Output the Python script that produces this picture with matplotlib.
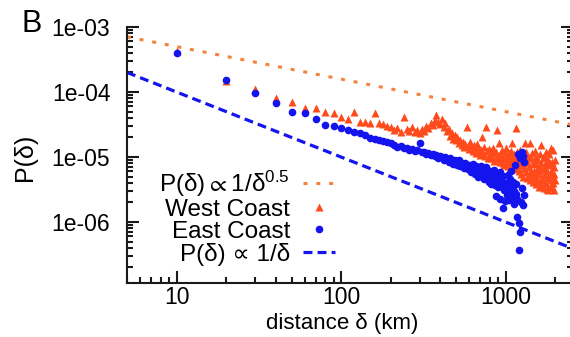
import numpy as np
import matplotlib
matplotlib.use('Agg')
import matplotlib.pyplot as plt

plt.rcParams['font.family'] = ['Liberation Sans', 'DejaVu Sans']
plt.rcParams['mathtext.fontset'] = 'custom'
plt.rcParams['mathtext.rm'] = 'Liberation Sans'
plt.rcParams['mathtext.default'] = 'regular'

#------------ DATA ----------------------------
# Distances come in 10 km bins.
east_km = np.arange(10, 1310, 10)
west_km = np.arange(10, 2010, 10)

# P(delta), in units of 1e-6.
east_p = [
    398, 153, 97, 68, 49, 47, 38.5, 31, 30, 28,
    26, 24.3, 23.4, 21.8, 19.5, 18.8, 18.2, 17.4, 17, 16.4,
    15.2, 14.4, 14.8, 13.6, 13.9, 12.8, 13.1, 12.3, 12.6, 16.4,
    11.8, 12.1, 11.2, 11.6, 10.6, 11.0, 10.2, 10.7, 9.8, 10.3,
    9.9, 8.9, 10.1, 9.2, 8.4, 9.6, 8.8, 7.9, 9.0, 8.3,
    7.6, 8.9, 7.2, 8.1, 7.5, 6.8, 8.0, 7.1, 6.5, 7.6,
    7.0, 5.9, 7.8, 6.4, 5.5, 7.2, 6.0, 4.9, 6.6, 5.7,
    7.4, 5.1, 6.2, 4.6, 5.8, 6.9, 4.8, 5.4, 4.2, 6.1,
    5.0, 3.9, 5.6, 4.5, 6.4, 3.7, 4.9, 2.5, 5.3, 3.5,
    4.4, 5.9, 2.3, 4.7, 3.9, 1.64, 5.1, 3.1, 2.1, 3.6,
    4.0, 2.6, 5.2, 3.2, 2.2, 4.6, 2.9, 6.0, 3.5, 2.4,
    4.2, 1.9, 3.0, 7.5, 2.7, 3.8, 1.2, 2.3, 11.0, 0.97,
    0.37, 9.5, 0.71, 2.0, 12.0, 3.3, 1.8, 10.5, 2.6, 8.5,
]
west_p = [
    420, 150, 111, 80, 71, 57, 56, 50, 47.5, 41.7,
    38, 50, 35, 34, 33, 48, 33, 32, 30, 29,
    26, 28, 24, 41.7, 27, 25, 29, 24, 26, 23,
    27, 25, 30, 28, 33, 31, 37, 44, 35, 32,
    38, 29, 33, 25, 27, 21, 23, 19, 22, 18,
    20, 16.5, 18.5, 15.5, 17, 14.5, 16, 29, 15, 13.5,
    17, 14, 12.5, 15.5, 13, 11.5, 16, 12, 14, 10.8,
    13, 20.5, 11.5, 14.5, 10.5, 29, 12.5, 9.8, 13.5, 11,
    9.5, 12.5, 10.2, 14, 8.8, 11.5, 9.2, 12, 26, 10,
    16.2, 8.5, 11, 9.5, 13, 8, 10.5, 7.5, 12, 9,
    14, 8.2, 10.5, 7.2, 11.5, 9, 6.8, 12.5, 8.5, 16.2,
    10, 7.5, 11, 6.5, 9.5, 27.6, 8, 12, 7, 10,
    6, 9, 13, 5.5, 8.5, 11, 5, 7.5, 10.5, 6.5,
    16.2, 9, 5.8, 12, 4.8, 8, 10, 5.5, 7, 16.2,
    4.5, 9.5, 6.2, 11.5, 5, 7.8, 4.2, 9, 6, 12.5,
    5.2, 8.2, 3.8, 10, 6.5, 4.6, 9, 5.5, 7.2, 3.5,
    11, 6, 4.2, 15.3, 8, 5, 3.6, 9.5, 6.5, 4.4,
    10.5, 3.3, 7, 5.2, 12, 4, 8.5, 3.2, 6, 9,
    4.8, 3.1, 7.5, 11, 5.5, 3.4, 8, 4.5, 13.6, 6,
    3.5, 8.5, 5, 12.8, 4, 7, 3.1, 5.5, 9, 4.5,
]

# Power-law guide lines: P = coef * delta^-exponent
half_coef, half_exp = 1.58e-3, 0.5
one_coef, one_exp = 1e-3, 1.0

x_range = [5, 2570]
y_range = [1.153e-7, 1e-3]
x_ticks = [10, 100, 1000]
x_labels = ['10', '100', '1000']
y_ticks = [1e-3, 1e-4, 1e-5, 1e-6]
y_labels = ['1e-03', '1e-04', '1e-05', '1e-06']

#------------ DRAW ----------------------------
fig = plt.figure(figsize=(5.7, 3.37), dpi=100)
ax = fig.add_axes([127 / 570, 54 / 337, 446 / 570, 256 / 337])
ax.set_xscale('log')
ax.set_yscale('log')

xs = np.array(x_range, dtype=float)
l_half, = ax.plot(xs, half_coef * xs ** -half_exp, color='#f5823c', lw=2.2,
                  linestyle=(0, (1.3, 2.9)))
l_one, = ax.plot(xs, one_coef * xs ** -one_exp, color='#1414ee', lw=2.3,
                 linestyle=(0, (2.8, 1.6)))
west, = ax.plot(west_km, np.array(west_p) * 1e-6, ls='none', marker='^', ms=5.5,
                color='#ff4a1c', mec='none')
east, = ax.plot(east_km, np.array(east_p) * 1e-6, ls='none', marker='o', ms=5.5,
                color='#1414ee', mec='none')

ax.set_xlim(x_range)
ax.set_ylim(y_range)
ax.set_xticks(x_ticks)
ax.set_xticklabels(x_labels)
ax.set_yticks(y_ticks)
ax.set_yticklabels(y_labels)

ax.spines['top'].set_visible(False)
ax.spines['right'].set_visible(False)
for s in ['left', 'bottom']:
    ax.spines[s].set_linewidth(1.5)
    ax.spines[s].set_color('#1a1a1a')

ax.tick_params(which='both', direction='in', right=True, top=False,
               width=1.5, color='#1a1a1a', labelsize=16.5)
ax.tick_params(which='major', length=8.5)
ax.tick_params(which='minor', length=4.5)
ax.tick_params(axis='y', pad=12)
ax.tick_params(axis='x', pad=2)

ax.set_xlabel('distance δ (km)', fontsize=16)
ax.xaxis.set_label_coords(0.482, -0.117)
ax.set_ylabel('P(δ)', fontsize=18)
ax.yaxis.set_label_coords(-0.2018, 0.492)

fig.text(22 / 570, (337 - 32) / 337, 'B', fontsize=22, va='baseline')

ax.legend([l_half, west, east, l_one],
          ['P(δ)$\\propto$1/δ$^{0.5}$', 'West Coast', 'East Coast',
           'P(δ) ∝ 1/δ'],
          loc='lower right', bbox_to_anchor=(335 / 570, (337 - 266) / 337),
          bbox_transform=fig.transFigure, frameon=False, markerfirst=False,
          handlelength=1.3, handletextpad=0.55, labelspacing=0.0,
          borderpad=0, borderaxespad=0, fontsize=17.5)

plt.savefig('out.png', dpi=100)
